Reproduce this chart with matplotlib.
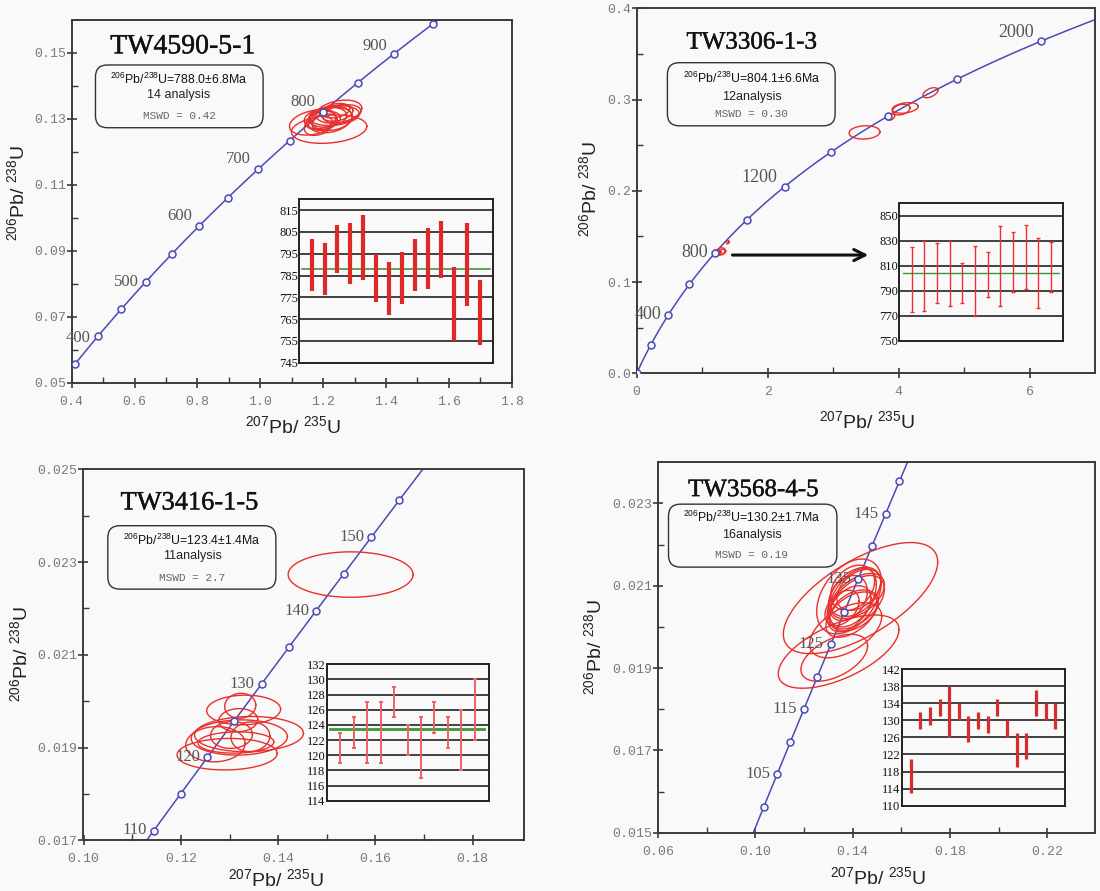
import numpy as np
import matplotlib
matplotlib.use("Agg")
import matplotlib.pyplot as plt
from matplotlib.patches import FancyBboxPatch
import matplotlib.patheffects as pe

plt.rcParams['mathtext.fontset'] = 'custom'
plt.rcParams['mathtext.rm'] = 'Liberation Sans'
plt.rcParams['mathtext.it'] = 'Liberation Sans:italic'
plt.rcParams['mathtext.bf'] = 'Liberation Sans:bold'

# ---------------- data ----------------
LAMBDA_238 = 1.55125e-10
LAMBDA_235 = 9.8485e-10

# Panel 1 : TW4590-5-1
p1_name = "TW4590-5-1"
p1_lines = [r"$^{206}$Pb/$^{238}$U=788.0±6.8Ma", "14 analysis", "MSWD = 0.42"]
p1_marker_ages = [350, 400, 450, 500, 550, 600, 650, 700, 750, 800, 850, 900, 950]
p1_label_ages = [400, 500, 600, 700, 800, 900]
p1_ell_x = [1.219, 1.168, 1.250, 1.235, 1.200, 1.215, 1.245, 1.185, 1.228, 1.260, 1.205, 1.190, 1.240, 1.222]
p1_ell_y = [0.1269, 0.1289, 0.1322, 0.1310, 0.1295, 0.1305, 0.1318, 0.1280, 0.1300, 0.1315, 0.1290, 0.1300, 0.1325, 0.1298]
p1_ell_ex = [0.120, 0.075, 0.073, 0.080, 0.055, 0.060, 0.050, 0.045, 0.065, 0.060, 0.040, 0.050, 0.045, 0.070]
p1_ell_ey = [0.0043, 0.0038, 0.0035, 0.0030, 0.0028, 0.0030, 0.0025, 0.0030, 0.0035, 0.0028, 0.0025, 0.0030, 0.0022, 0.0040]
p1_ell_rho = [0.2, 0.3, 0.3, 0.2, 0.3, 0.2, 0.3, 0.3, 0.2, 0.3, 0.3, 0.2, 0.3, 0.25]
p1_bar_low = [778, 776, 786, 781, 783, 773, 767, 772, 778, 779, 784, 755, 771, 753]
p1_bar_high = [802, 800, 808, 809, 813, 795, 791, 796, 802, 807, 810, 789, 809, 783]
p1_mean = 788.0
p1_xticks = [0.4, 0.6, 0.8, 1.0, 1.2, 1.4, 1.6, 1.8]
p1_xminor = [0.5, 0.7, 0.9, 1.1, 1.3, 1.5, 1.7]
p1_yticks = [0.05, 0.07, 0.09, 0.11, 0.13, 0.15]
p1_yminor = [0.06, 0.08, 0.10, 0.12, 0.14]
p1_inset_ticks = [745, 755, 765, 775, 785, 795, 805, 815]

# Panel 2 : TW3306-1-3
p2_name = "TW3306-1-3"
p2_lines = [r"$^{206}$Pb/$^{238}$U=804.1±6.6Ma", "12analysis", "MSWD = 0.30"]
p2_marker_ages = [0, 200, 400, 600, 800, 1000, 1200, 1400, 1600, 1800, 2000]
p2_label_ages = [400, 800, 1200, 2000]
p2_ell_x = [3.48, 4.04, 4.10, 3.876, 4.486, 1.22, 1.28, 1.31, 1.393, 1.25, 1.20]
p2_ell_y = [0.264, 0.289, 0.2908, 0.281, 0.3075, 0.1322, 0.1335, 0.1330, 0.1436, 0.1318, 0.131]
p2_ell_ex = [0.236, 0.134, 0.20, 0.064, 0.115, 0.06, 0.07, 0.05, 0.02, 0.04, 0.03]
p2_ell_ey = [0.0073, 0.0059, 0.0058, 0.0037, 0.0055, 0.0035, 0.004, 0.003, 0.0018, 0.0025, 0.002]
p2_ell_rho = [0.1, 0.3, 0.3, 0.3, 0.5, 0.3, 0.3, 0.3, 0.3, 0.3, 0.3]
p2_bar_low = [773, 774, 780, 778, 780, 770, 785, 778, 789, 791, 776, 789]
p2_bar_high = [825, 830, 828, 830, 812, 826, 821, 842, 837, 843, 832, 829]
p2_mean = 804.1
p2_xticks = [0, 2, 4, 6]
p2_xminor = [1, 3, 5]
p2_yticks = [0.0, 0.1, 0.2, 0.3, 0.4]
p2_yminor = [0.05, 0.15, 0.25, 0.35]
p2_inset_ticks = [750, 770, 790, 810, 830, 850]

# Panel 3 : TW3416-1-5
p3_name = "TW3416-1-5"
p3_lines = [r"$^{206}$Pb/$^{238}$U=123.4±1.4Ma", "11analysis", "MSWD = 2.7"]
p3_marker_ages = [110, 115, 120, 125, 130, 135, 140, 145, 150, 155]
p3_label_ages = [110, 120, 130, 140, 150]
p3_ell_x = [0.1549, 0.1329, 0.1322, 0.1318, 0.1340, 0.1320, 0.1295, 0.1271, 0.1343, 0.1304, 0.1313]
p3_ell_y = [0.02273, 0.01981, 0.01990, 0.01959, 0.01929, 0.019217, 0.018857, 0.019072, 0.019234, 0.019271, 0.019109]
p3_ell_ex = [0.01284, 0.0076, 0.0032, 0.0040, 0.0112, 0.0099, 0.0103, 0.0061, 0.0040, 0.0043, 0.0078]
p3_ell_ey = [0.00049, 0.00032, 0.00027, 0.00025, 0.00038, 0.00038, 0.00034, 0.00038, 0.00032, 0.00029, 0.00023]
p3_ell_rho = [0.0, 0.05, 0.05, 0.05, 0.05, 0.05, 0.05, 0.05, 0.05, 0.05, 0.05]
p3_bar_low = [119, 121, 119, 119, 125, 120, 117, 123, 121, 118, 122]
p3_bar_high = [123, 125, 127, 127, 129, 124, 125, 127, 125, 126, 130]
p3_mean = 123.4
p3_xticks = [0.10, 0.12, 0.14, 0.16, 0.18]
p3_xminor = [0.11, 0.13, 0.15, 0.17]
p3_yticks = [0.017, 0.019, 0.021, 0.023, 0.025]
p3_yminor = [0.018, 0.020, 0.022, 0.024]
p3_inset_ticks = [114, 116, 118, 120, 122, 124, 126, 128, 130, 132]

# Panel 4 : TW3568-4-5
p4_name = "TW3568-4-5"
p4_lines = [r"$^{206}$Pb/$^{238}$U=130.2±1.7Ma", "16analysis", "MSWD = 0.19"]
p4_marker_ages = [100, 105, 110, 115, 120, 125, 130, 135, 140, 145, 150]
p4_label_ages = [105, 115, 125, 135, 145]
p4_ell_x = [0.1432, 0.1342, 0.1324, 0.1371, 0.1385, 0.1396, 0.1356, 0.1410, 0.1420, 0.1400, 0.1415, 0.1390, 0.1405, 0.1380, 0.1425, 0.1395]
p4_ell_y = [0.02070, 0.01940, 0.01925, 0.01992, 0.02074, 0.02065, 0.02046, 0.02085, 0.02075, 0.02095, 0.02060, 0.02050, 0.02040, 0.02070, 0.02090, 0.02030]
p4_ell_ex = [0.0317, 0.0248, 0.0137, 0.0148, 0.0133, 0.0101, 0.0070, 0.0105, 0.0110, 0.0090, 0.0115, 0.0085, 0.0100, 0.0080, 0.0090, 0.0105]
p4_ell_ey = [0.00135, 0.00089, 0.00057, 0.00067, 0.00091, 0.00077, 0.00043, 0.00060, 0.00055, 0.00055, 0.00065, 0.00050, 0.00050, 0.00055, 0.00050, 0.00055]
p4_ell_rho = [0.65, 0.6, 0.5, 0.5, 0.4, 0.5, 0.4, 0.4, 0.5, 0.3, 0.5, 0.4, 0.4, 0.3, 0.4, 0.5]
p4_bar_low = [113, 128, 129, 131, 126, 130, 125, 128, 127, 131, 126, 119, 121, 131, 130, 128]
p4_bar_high = [121, 132, 133, 135, 138, 134, 131, 132, 131, 135, 130, 127, 127, 137, 134, 134]
p4_xticks = [0.06, 0.10, 0.14, 0.18, 0.22]
p4_xminor = [0.08, 0.12, 0.16, 0.20]
p4_yticks = [0.015, 0.017, 0.019, 0.021, 0.023]
p4_yminor = [0.016, 0.018, 0.020, 0.022]
p4_inset_ticks = [110, 114, 118, 122, 126, 130, 134, 138, 142]

# arrow in panel 2 (data coordinates)
p2_arrow_from = (1.42, 0.1296)
p2_arrow_to = (3.58, 0.1296)

# ---------------- style / layout ----------------
W, H = 1100, 891
BG = "#f9f9f9"
BLUE = "#4a4ab8"
RED = "#e8302c"
GREEN = "#3a9a3a"
TICK_GRAY = "#7a7a7a"


def rect(x0, y0, x1, y1):
    return [x0 / W, 1 - y1 / H, (x1 - x0) / W, (y1 - y0) / H]


def concordia(ages):
    t = np.asarray(ages, dtype=float) * 1e6
    return np.expm1(LAMBDA_235 * t), np.expm1(LAMBDA_238 * t)


fig = plt.figure(figsize=(W / 100, H / 100), dpi=100)
fig.patch.set_facecolor(BG)

panels = [
    dict(name=p1_name, lines=p1_lines, marks=p1_marker_ages, labs=p1_label_ages,
         ex=p1_ell_x, ey=p1_ell_y, eex=p1_ell_ex, eey=p1_ell_ey, rho=p1_ell_rho,
         xt=p1_xticks, xm=p1_xminor, yt=p1_yticks, ym=p1_yminor,
         xlim=(0.4, 1.8), ylim=(0.05, 0.16), xfmt="%.1f", yfmt="%.2f",
         box=rect(71.7, 20, 511.7, 382.7), curve=(300, 1000),
         lab_dy=[-2, 0, 10, 10, 10, 8], lab_size=12,
         tbox=(0.054, 0.703, 0.435, 0.876), tx=0.244, ty=[0.835, 0.792, 0.735],
         title_xy=(0.252, 0.926), title_size=20,
         ylab=(16.7, 193), xlab=(293, 426)),
    dict(name=p2_name, lines=p2_lines, marks=p2_marker_ages, labs=p2_label_ages,
         ex=p2_ell_x, ey=p2_ell_y, eex=p2_ell_ex, eey=p2_ell_ey, rho=p2_ell_rho,
         xt=p2_xticks, xm=p2_xminor, yt=p2_yticks, ym=p2_yminor,
         xlim=(0, 7.0), ylim=(0.0, 0.4), xfmt="%d", yfmt="%.1f",
         box=rect(636.7, 8.3, 1095, 373.3), curve=(0, 2400),
         lab_dy=[0, 0, 9, 9], lab_size=13,
         tbox=(0.067, 0.678, 0.433, 0.851), tx=0.251, ty=[0.808, 0.756, 0.710],
         title_xy=(0.251, 0.906), title_size=18,
         ylab=(589.5, 189), xlab=(867.5, 421)),
    dict(name=p3_name, lines=p3_lines, marks=p3_marker_ages, labs=p3_label_ages,
         ex=p3_ell_x, ey=p3_ell_y, eex=p3_ell_ex, eey=p3_ell_ey, rho=p3_ell_rho,
         xt=p3_xticks, xm=p3_xminor, yt=p3_yticks, ym=p3_yminor,
         xlim=(0.0998, 0.1905), ylim=(0.017, 0.025), xfmt="%.2f", yfmt="%.3f",
         box=rect(82.7, 469.3, 523.7, 840.3), curve=(95, 175),
         lab_dy=[1, 0, 0, 0, 0], lab_size=12,
         tbox=(0.057, 0.677, 0.438, 0.848), tx=0.248, ty=[0.809, 0.766, 0.708],
         title_xy=(0.242, 0.908), title_size=19,
         ylab=(20, 654), xlab=(276, 879)),
    dict(name=p4_name, lines=p4_lines, marks=p4_marker_ages, labs=p4_label_ages,
         ex=p4_ell_x, ey=p4_ell_y, eex=p4_ell_ex, eey=p4_ell_ey, rho=p4_ell_rho,
         xt=p4_xticks, xm=p4_xminor, yt=p4_yticks, ym=p4_yminor,
         xlim=(0.06, 0.2397), ylim=(0.015, 0.024), xfmt="%.2f", yfmt="%.3f",
         box=rect(658, 462.3, 1095.4, 832.7), curve=(90, 170),
         lab_dy=[0, 0, 0, 0, 0], lab_size=12,
         tbox=(0.024, 0.717, 0.409, 0.887), tx=0.214, ty=[0.852, 0.804, 0.750],
         title_xy=(0.218, 0.925), title_size=18,
         ylab=(594.5, 646.5), xlab=(878, 877.5)),
]

tt = np.linspace(0, 2 * np.pi, 240)
axes = []
for P in panels:
    ax = fig.add_axes(P["box"])
    axes.append(ax)
    ax.set_facecolor(BG)
    ax.set_xlim(*P["xlim"])
    ax.set_ylim(*P["ylim"])
    for s in ax.spines.values():
        s.set_color("#3a3a3a")
        s.set_linewidth(1.4)
    ax.set_xticks(P["xt"])
    ax.set_xticks(P["xm"], minor=True)
    ax.set_yticks(P["yt"])
    ax.set_yticks(P["ym"], minor=True)
    ax.set_xticklabels([P["xfmt"] % v for v in P["xt"]])
    ax.set_yticklabels([P["yfmt"] % v for v in P["yt"]])
    ax.tick_params(which="major", direction="inout", length=7, width=1.2, color="#3a3a3a")
    ax.tick_params(which="minor", direction="in", length=4, width=1.0, color="#3a3a3a")
    ax.tick_params(axis="x", which="major", pad=6)
    ax.tick_params(axis="y", which="major", pad=0.5)
    for lab in ax.get_xticklabels() + ax.get_yticklabels():
        lab.set_fontfamily("Liberation Mono")
        lab.set_fontsize(9.5)
        lab.set_color(TICK_GRAY)

    # concordia curve
    ages = np.linspace(P["curve"][0], P["curve"][1], 600)
    cx, cy = concordia(ages)
    ax.plot(cx, cy, color=BLUE, lw=1.1, zorder=2)
    mx, my = concordia(P["marks"])
    ax.plot(mx, my, "o", ms=5, mfc=BG, mec=BLUE, mew=1.1, zorder=5, clip_on=True)
    lx, ly = concordia(P["labs"])
    for a, x, y, dy in zip(P["labs"], lx, ly, P["lab_dy"]):
        ax.annotate(str(a), (x, y), xytext=(-7, dy), textcoords="offset pixels",
                    ha="right", va="center", family="Liberation Serif",
                    fontsize=P["lab_size"], color="#555555", zorder=4)

    # error ellipses
    for x0, y0, ex, ey, r in zip(P["ex"], P["ey"], P["eex"], P["eey"], P["rho"]):
        xs = x0 + ex * np.cos(tt)
        ys = y0 + ey * (r * np.cos(tt) + np.sqrt(1 - r * r) * np.sin(tt))
        ax.plot(xs, ys, color=RED, lw=1.0, zorder=3)

    # title & summary box
    ax.text(*P["title_xy"], P["name"], transform=ax.transAxes, ha="center", va="center",
            family="Liberation Serif", fontsize=P["title_size"], color="#111111",
            path_effects=[pe.withStroke(linewidth=0.3, foreground="#111111")])
    bx0, by0, bx1, by1 = P["tbox"]
    wpx = P["box"][2] * W
    hpx = P["box"][3] * H
    patch = FancyBboxPatch((bx0, by0), bx1 - bx0, by1 - by0,
                           boxstyle="round,pad=0,rounding_size=%f" % (12 / wpx),
                           mutation_aspect=wpx / hpx, transform=ax.transAxes,
                           fc="none", ec="#333333", lw=1.0, zorder=6)
    ax.add_patch(patch)
    ax.text(P["tx"], P["ty"][0], P["lines"][0], transform=ax.transAxes, ha="center",
            va="center", family="Liberation Sans", fontsize=8.8, color="#111111")
    ax.text(P["tx"], P["ty"][1], P["lines"][1], transform=ax.transAxes, ha="center",
            va="center", family="Liberation Sans", fontsize=9, color="#222222")
    ax.text(P["tx"], P["ty"][2], P["lines"][2], transform=ax.transAxes, ha="center",
            va="center", family="Liberation Mono", fontsize=8, color="#666666")

    # axis labels
    fig.text(P["ylab"][0] / W, 1 - P["ylab"][1] / H, r"$^{206}$Pb/ $^{238}$U",
             rotation=90, ha="center", va="center", family="Liberation Sans",
             fontsize=14, color="#222222")
    fig.text(P["xlab"][0] / W, 1 - P["xlab"][1] / H, r"$^{207}$Pb/ $^{235}$U",
             ha="center", va="center", family="Liberation Sans",
             fontsize=14, color="#222222")

# arrow on panel 2
axes[1].annotate("", xy=p2_arrow_to, xytext=p2_arrow_from,
                 arrowprops=dict(arrowstyle="->", lw=2.2, color="#111111",
                                 mutation_scale=20), zorder=6)

# ---------------- insets ----------------
insets = [
    dict(box=rect(299.3, 199.3, 492.7, 362.7), ylim=(745, 820), xlim=(0.05, 15.0),
         low=p1_bar_low, high=p1_bar_high, mean=p1_mean, mean_span=(0.23, 14.77),
         ticks=p1_inset_ticks, kind="thick", bw=3.0, color="#e02828", glw=1.2),
    dict(box=rect(899.3, 203.3, 1063.3, 340.7), ylim=(750, 860), xlim=(0.03, 12.97),
         low=p2_bar_low, high=p2_bar_high, mean=p2_mean, mean_span=(0.34, 12.66),
         ticks=p2_inset_ticks, kind="thin", bw=1.0, color="#ee3030", glw=1.0),
    dict(box=rect(326.7, 664.3, 489, 800.7), ylim=(114, 132), xlim=(0.01, 12.04),
         low=p3_bar_low, high=p3_bar_high, mean=p3_mean, mean_span=(0.26, 11.69),
         ticks=p3_inset_ticks, kind="thin", bw=1.4, color="#f06060", glw=2.0),
    dict(box=rect(901.7, 669, 1064.9, 805.7), ylim=(110, 142), xlim=(0.08, 17.0),
         low=p4_bar_low, high=p4_bar_high, mean=None, mean_span=None,
         ticks=p4_inset_ticks, kind="thick", bw=2.3, color="#d92b2b", glw=1.2),
]

for I in insets:
    ia = fig.add_axes(I["box"], zorder=10)
    ia.set_facecolor(BG)
    ia.set_xlim(*I["xlim"])
    ia.set_ylim(*I["ylim"])
    ia.set_xticks([])
    ia.set_yticks(I["ticks"])
    ia.set_yticklabels([str(v) for v in I["ticks"]])
    ia.tick_params(axis="y", length=0, pad=1)
    for lab in ia.get_yticklabels():
        lab.set_fontfamily("Liberation Serif")
        lab.set_fontsize(9)
        lab.set_color("#111111")
    for s in ia.spines.values():
        s.set_color("#222222")
        s.set_linewidth(1.4)
    for v in I["ticks"]:
        if I["ylim"][0] < v < I["ylim"][1]:
            ia.axhline(v, color="#333333", lw=1.3, zorder=1)
    xs = np.arange(1, len(I["low"]) + 1)
    lo = np.array(I["low"], dtype=float)
    hi = np.array(I["high"], dtype=float)
    if I["mean"] is not None:
        ia.plot(I["mean_span"], [I["mean"], I["mean"]], color=GREEN, lw=I["glw"], zorder=2)
    if I["kind"] == "thick":
        ia.vlines(xs, lo, hi, color=I["color"], lw=I["bw"], zorder=3)
    else:
        mid = (lo + hi) / 2
        ia.errorbar(xs, mid, yerr=[mid - lo, hi - mid], fmt="none", ecolor=I["color"],
                    elinewidth=I["bw"], capsize=1.2, capthick=I["bw"], zorder=3)

fig.savefig("out.png", dpi=100, facecolor=BG)
